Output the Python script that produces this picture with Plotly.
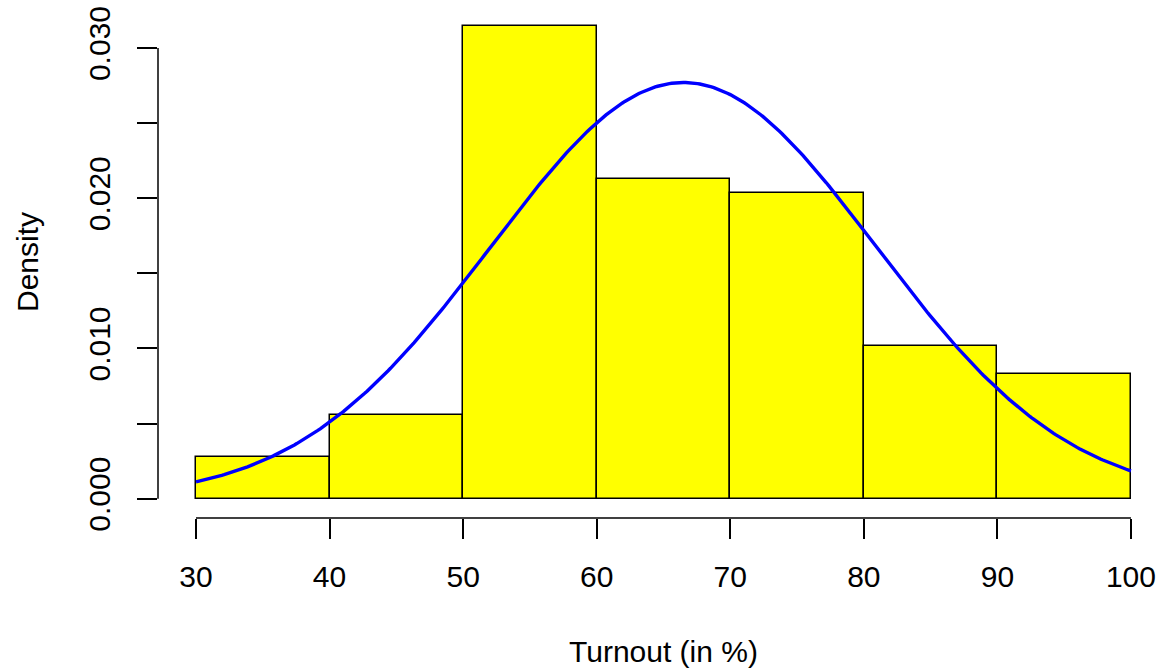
import numpy as np
import plotly.graph_objects as go

# Histogram data
bin_left = [30, 40, 50, 60, 70, 80, 90]
bin_width = 10
counts = [3, 6, 34, 23, 22, 11, 9]
# fitted normal curve parameters
curve_mean = 66.5
curve_sd = 14.4

x_ticks = [30, 40, 50, 60, 70, 80, 90, 100]
y_ticks = [0.0, 0.010, 0.020, 0.030]
y_ticktext = ["0.000", "0.010", "0.020", "0.030"]
y_minor = [0.005, 0.015, 0.025]

n = sum(counts)
density = [c / (n * bin_width) for c in counts]
mids = [b + bin_width / 2 for b in bin_left]

xc = np.linspace(30, 100, 400)
yc = np.exp(-0.5 * ((xc - curve_mean) / curve_sd) ** 2) / (curve_sd * np.sqrt(2 * np.pi))

FONT = "Liberation Sans, Arial, sans-serif"
FS = 30

fig = go.Figure()
fig.add_trace(go.Bar(x=mids, y=density, width=bin_width,
                     marker=dict(color="#FFFF00", line=dict(color="black", width=1.5)),
                     showlegend=False, hoverinfo="x+y"))
fig.add_trace(go.Scatter(x=xc, y=yc, mode="lines",
                         line=dict(color="#0000FF", width=3.4), showlegend=False))

fig.update_layout(
    width=1161, height=670,
    margin=dict(l=158, r=0, t=6, b=152, autoexpand=False),
    plot_bgcolor="white", paper_bgcolor="white",
    font=dict(family=FONT, size=FS, color="black"),
    bargap=0,
    xaxis=dict(range=[27.155, 102.25], showgrid=False, zeroline=False, showline=False,
               tickmode="array", tickvals=x_ticks, ticktext=[str(v) for v in x_ticks],
               ticks="outside", ticklen=20, tickwidth=1.5, tickcolor="black",
               ticklabelstandoff=12, tickfont=dict(size=FS, family=FONT)),
    yaxis=dict(range=[-0.001285, 0.032797], showgrid=False, zeroline=False, showline=False,
               tickmode="array", tickvals=y_ticks, ticktext=y_ticktext, tickangle=-90,
               ticks="outside", ticklen=20, tickwidth=1.5, tickcolor="black",
               ticklabelstandoff=15, tickfont=dict(size=FS, family=FONT),
               minor=dict(tickvals=y_minor, ticks="outside", ticklen=20, tickwidth=1.5,
                          tickcolor="black")),
    shapes=[
        dict(type="line", xref="x", yref="paper", x0=x_ticks[0], x1=x_ticks[-1], y0=0, y1=0,
             line=dict(color="black", width=1.5)),
        dict(type="line", xref="paper", yref="y", x0=0, x1=0, y0=y_ticks[0], y1=y_ticks[-1],
             line=dict(color="black", width=1.5)),
    ],
    annotations=[
        dict(text="Turnout (in %)", xref="x", yref="paper", x=65, y=-0.2617,
             showarrow=False, xanchor="center", yanchor="middle",
             font=dict(size=FS, family=FONT)),
        dict(text="Density", xref="paper", yref="paper", x=-0.1306, y=0.5, textangle=-90,
             showarrow=False, xanchor="center", yanchor="middle",
             font=dict(size=FS, family=FONT)),
    ],
)

fig.write_html("out.html")
